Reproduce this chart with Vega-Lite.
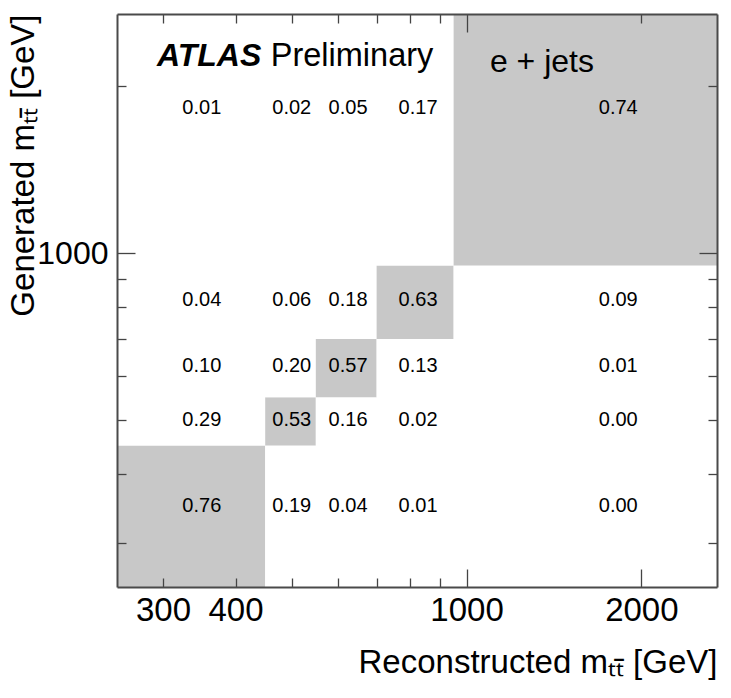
{
  "$schema": "https://vega.github.io/schema/vega-lite/v6.json",
  "width": 600,
  "height": 573,
  "autosize": {"type": "none"},
  "padding": {"left": 117, "top": 14, "right": 14, "bottom": 111},
  "background": "white",
  "config": {"view": {"stroke": null}, "font": "Liberation Sans"},
  "datasets": {
    "cells": [
      {"rec_lo": 250, "rec_hi": 450, "rec_c": 350, "gen_lo": 250, "gen_hi": 450, "gen_c": 350, "value": 0.76},
      {"rec_lo": 450, "rec_hi": 550, "rec_c": 500, "gen_lo": 250, "gen_hi": 450, "gen_c": 350, "value": 0.19},
      {"rec_lo": 550, "rec_hi": 700, "rec_c": 625, "gen_lo": 250, "gen_hi": 450, "gen_c": 350, "value": 0.04},
      {"rec_lo": 700, "rec_hi": 950, "rec_c": 825, "gen_lo": 250, "gen_hi": 450, "gen_c": 350, "value": 0.01},
      {"rec_lo": 950, "rec_hi": 2700, "rec_c": 1825, "gen_lo": 250, "gen_hi": 450, "gen_c": 350, "value": 0.00},
      {"rec_lo": 250, "rec_hi": 450, "rec_c": 350, "gen_lo": 450, "gen_hi": 550, "gen_c": 500, "value": 0.29},
      {"rec_lo": 450, "rec_hi": 550, "rec_c": 500, "gen_lo": 450, "gen_hi": 550, "gen_c": 500, "value": 0.53},
      {"rec_lo": 550, "rec_hi": 700, "rec_c": 625, "gen_lo": 450, "gen_hi": 550, "gen_c": 500, "value": 0.16},
      {"rec_lo": 700, "rec_hi": 950, "rec_c": 825, "gen_lo": 450, "gen_hi": 550, "gen_c": 500, "value": 0.02},
      {"rec_lo": 950, "rec_hi": 2700, "rec_c": 1825, "gen_lo": 450, "gen_hi": 550, "gen_c": 500, "value": 0.00},
      {"rec_lo": 250, "rec_hi": 450, "rec_c": 350, "gen_lo": 550, "gen_hi": 700, "gen_c": 625, "value": 0.10},
      {"rec_lo": 450, "rec_hi": 550, "rec_c": 500, "gen_lo": 550, "gen_hi": 700, "gen_c": 625, "value": 0.20},
      {"rec_lo": 550, "rec_hi": 700, "rec_c": 625, "gen_lo": 550, "gen_hi": 700, "gen_c": 625, "value": 0.57},
      {"rec_lo": 700, "rec_hi": 950, "rec_c": 825, "gen_lo": 550, "gen_hi": 700, "gen_c": 625, "value": 0.13},
      {"rec_lo": 950, "rec_hi": 2700, "rec_c": 1825, "gen_lo": 550, "gen_hi": 700, "gen_c": 625, "value": 0.01},
      {"rec_lo": 250, "rec_hi": 450, "rec_c": 350, "gen_lo": 700, "gen_hi": 950, "gen_c": 825, "value": 0.04},
      {"rec_lo": 450, "rec_hi": 550, "rec_c": 500, "gen_lo": 700, "gen_hi": 950, "gen_c": 825, "value": 0.06},
      {"rec_lo": 550, "rec_hi": 700, "rec_c": 625, "gen_lo": 700, "gen_hi": 950, "gen_c": 825, "value": 0.18},
      {"rec_lo": 700, "rec_hi": 950, "rec_c": 825, "gen_lo": 700, "gen_hi": 950, "gen_c": 825, "value": 0.63},
      {"rec_lo": 950, "rec_hi": 2700, "rec_c": 1825, "gen_lo": 700, "gen_hi": 950, "gen_c": 825, "value": 0.09},
      {"rec_lo": 250, "rec_hi": 450, "rec_c": 350, "gen_lo": 950, "gen_hi": 2700, "gen_c": 1825, "value": 0.01},
      {"rec_lo": 450, "rec_hi": 550, "rec_c": 500, "gen_lo": 950, "gen_hi": 2700, "gen_c": 1825, "value": 0.02},
      {"rec_lo": 550, "rec_hi": 700, "rec_c": 625, "gen_lo": 950, "gen_hi": 2700, "gen_c": 1825, "value": 0.05},
      {"rec_lo": 700, "rec_hi": 950, "rec_c": 825, "gen_lo": 950, "gen_hi": 2700, "gen_c": 1825, "value": 0.17},
      {"rec_lo": 950, "rec_hi": 2700, "rec_c": 1825, "gen_lo": 950, "gen_hi": 2700, "gen_c": 1825, "value": 0.74}
    ]
  },
  "layer": [
    {
      "data": {"name": "cells"},
      "mark": {"type": "rect", "strokeWidth": 0},
      "encoding": {
        "x": {
          "field": "rec_lo", "type": "quantitative",
          "scale": {"type": "log", "domain": [250, 2700], "nice": false, "zero": false},
          "axis": {
            "orient": "bottom",
            "values": [300, 400, 500, 600, 700, 800, 900, 1000, 2000],
            "labelExpr": "(datum.value==300||datum.value==400||datum.value==1000||datum.value==2000) ? '' + datum.value : ''",
            "labelFont": "Liberation Sans", "labelFontSize": 33, "labelColor": "#000",
            "labelFlush": false, "labelOverlap": false, "labelBaseline": "top",
            "tickSize": {"condition": {"test": "datum.value==1000||datum.value==2000", "value": -18}, "value": -9},
            "labelPadding": {"condition": {"test": "datum.value==1000||datum.value==2000", "value": 25}, "value": 16},
            "tickColor": "#444", "tickWidth": 1.3,
            "domain": true, "domainColor": "#4a4a4a", "domainWidth": 2,
            "grid": false, "zindex": 1,
            "title": "Reconstructed mₜₜ̄ [GeV]",
            "titleFont": "Liberation Sans", "titleFontSize": 33, "titleFontWeight": "normal", "titleColor": "#000",
            "titleX": 600, "titleY": 85, "titleAlign": "right", "titleBaseline": "alphabetic", "titleAngle": 0
          }
        },
        "x2": {"field": "rec_hi"},
        "y": {
          "field": "gen_lo", "type": "quantitative",
          "scale": {"type": "log", "domain": [250, 2700], "nice": false, "zero": false},
          "axis": {
            "orient": "left",
            "values": [300, 400, 500, 600, 700, 800, 900, 1000, 2000],
            "labelExpr": "datum.value==1000 ? '1000' : ''",
            "labelFont": "Liberation Sans", "labelFontSize": 32, "labelColor": "#000",
            "labelFlush": false, "labelOverlap": false, "labelBaseline": "middle",
            "tickSize": {"condition": {"test": "datum.value==1000", "value": -18}, "value": -9},
            "labelPadding": 27,
            "tickColor": "#444", "tickWidth": 1.3,
            "domain": true, "domainColor": "#4a4a4a", "domainWidth": 2,
            "grid": false, "zindex": 1,
            "title": "Generated mₜₜ̄ [GeV]",
            "titleFont": "Liberation Sans", "titleFontSize": 33, "titleFontWeight": "normal", "titleColor": "#000",
            "titleX": -84, "titleY": 0, "titleAlign": "right", "titleBaseline": "alphabetic", "titleAngle": 270
          }
        },
        "y2": {"field": "gen_hi"},
        "color": {
          "field": "value", "type": "quantitative",
          "scale": {"type": "threshold", "domain": [0.5], "range": ["#ffffff", "#c8c8c8"]},
          "legend": null
        }
      }
    },
    {
      "data": {"name": "cells"},
      "mark": {"type": "text", "font": "Liberation Sans", "fontSize": 20, "color": "#000", "baseline": "middle", "align": "center"},
      "encoding": {
        "x": {
          "field": "rec_c", "type": "quantitative",
          "axis": {
            "orient": "top",
            "values": [300, 400, 500, 600, 700, 800, 900, 1000, 2000],
            "labels": false,
            "tickSize": {"condition": {"test": "datum.value==1000", "value": -18}, "value": -9},
            "tickColor": "#444", "tickWidth": 1.3,
            "domain": true, "domainColor": "#4a4a4a", "domainWidth": 2,
            "grid": false, "zindex": 1, "title": null
          }
        },
        "y": {
          "field": "gen_c", "type": "quantitative",
          "axis": {
            "orient": "right",
            "values": [300, 400, 500, 600, 700, 800, 900, 1000, 2000],
            "labels": false,
            "tickSize": {"condition": {"test": "datum.value==1000", "value": -18}, "value": -9},
            "tickColor": "#444", "tickWidth": 1.3,
            "domain": true, "domainColor": "#4a4a4a", "domainWidth": 2,
            "grid": false, "zindex": 1, "title": null
          }
        },
        "text": {"field": "value", "type": "quantitative", "format": ".2f"}
      }
    },
    {
      "data": {"values": [{"label": "ATLAS"}]},
      "mark": {"type": "text", "font": "Liberation Sans", "fontSize": 32, "fontWeight": "bold", "fontStyle": "italic", "color": "#000", "align": "left", "baseline": "alphabetic"},
      "encoding": {
        "x": {"datum": 293, "type": "quantitative", "axis": null},
        "y": {"datum": 2175, "type": "quantitative", "axis": null},
        "text": {"field": "label"}
      }
    },
    {
      "data": {"values": [{"label": "Preliminary"}]},
      "mark": {"type": "text", "font": "Liberation Sans", "fontSize": 32.5, "color": "#000", "align": "left", "baseline": "alphabetic"},
      "encoding": {
        "x": {"datum": 460, "type": "quantitative", "axis": null},
        "y": {"datum": 2175, "type": "quantitative", "axis": null},
        "text": {"field": "label"}
      }
    },
    {
      "data": {"values": [{"label": "e + jets"}]},
      "mark": {"type": "text", "font": "Liberation Sans", "fontSize": 32, "color": "#000", "align": "left", "baseline": "alphabetic"},
      "encoding": {
        "x": {"datum": 1097, "type": "quantitative", "axis": null},
        "y": {"datum": 2122, "type": "quantitative", "axis": null},
        "text": {"field": "label"}
      }
    }
  ],
  "resolve": {"axis": {"x": "independent", "y": "independent"}}
}
